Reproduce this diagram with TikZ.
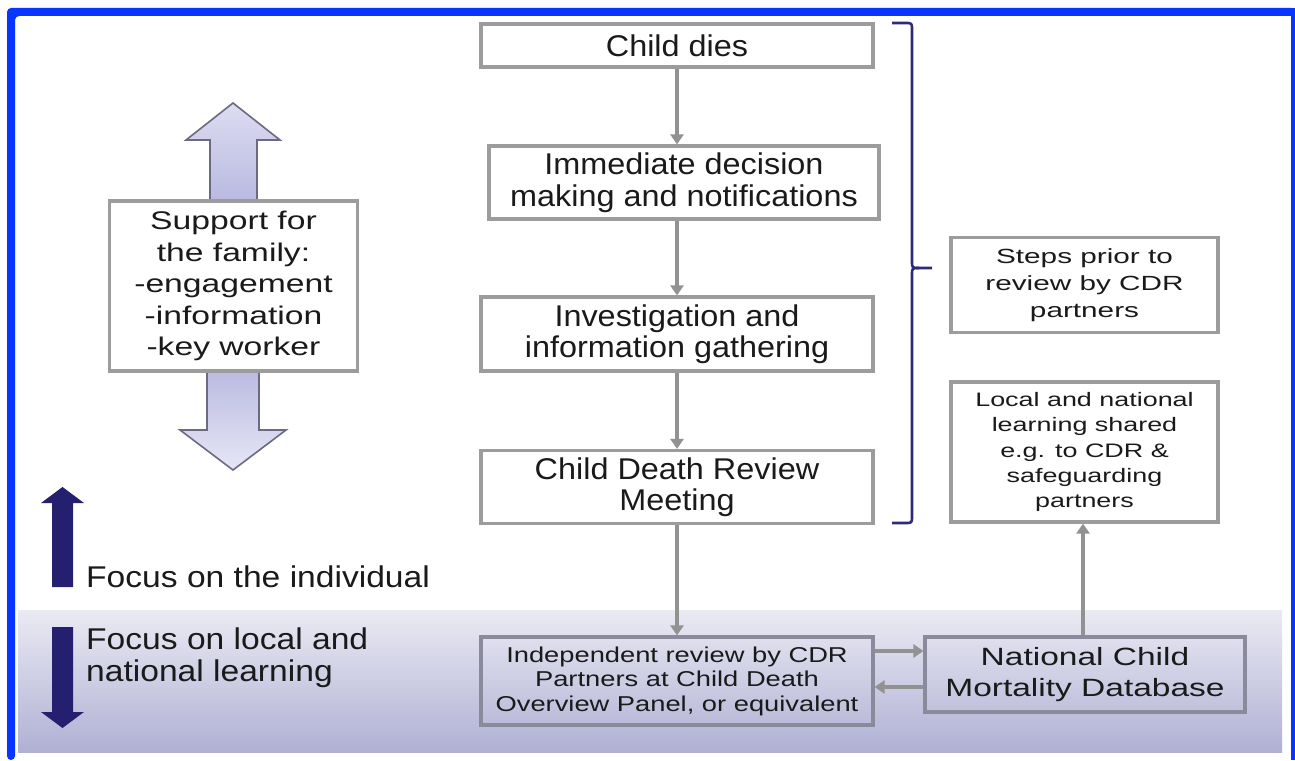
\documentclass[tikz,border=0pt]{standalone}
\usepackage{fontspec}
\setmainfont{Liberation Sans}[FakeStretch=1.08]
\newfontfamily\fsupport{Liberation Sans}[FakeStretch=1.32]
\newfontfamily\ffocus{Liberation Sans}[FakeStretch=1.12]
\newfontfamily\findep{Liberation Sans}[FakeStretch=1.27]
\newfontfamily\fnat{Liberation Sans}[FakeStretch=1.34]
\newfontfamily\fsteps{Liberation Sans}[FakeStretch=1.45]
\newfontfamily\flocal{Liberation Sans}[FakeStretch=1.38]
\usetikzlibrary{arrows.meta}
\definecolor{frameblue}{HTML}{0A35FF}
\definecolor{boxgray}{HTML}{9C9C9C}
\definecolor{bandgray}{HTML}{8A8A9C}
\definecolor{arrgray}{HTML}{929292}
\definecolor{navy}{HTML}{241F6E}
\definecolor{bracecol}{HTML}{2E2A7A}
\definecolor{txt}{HTML}{1A1A1A}
\definecolor{lavtop}{HTML}{EAEAF4}
\definecolor{lavbot}{HTML}{B0B0D4}
\definecolor{bigtop}{HTML}{DCDCF2}
\definecolor{bigbot}{HTML}{B8B8E0}
\definecolor{bigedge}{HTML}{6A6A82}
\tikzset{
  stepbox/.style={draw=boxgray, line width=3.2pt, fill=white, inner sep=0pt, align=center, text=txt},
  bandbox/.style={draw=bandgray, line width=3.2pt, inner sep=0pt, align=center, text=txt},
  flow/.style={draw=arrgray, line width=3.4pt, -{Triangle[length=10pt,width=13pt]}},
  bigarrow/.style={draw=bigedge, line width=1.6pt, line join=miter},
  darkarrow/.style={fill=navy, draw=none},
  bracket/.style={draw=bracecol, line width=2.6pt},
  bigtext/.style={font=\fontsize{30}{31.5}\selectfont},
}
\begin{document}
\begin{tikzpicture}[x=1pt,y=-1pt]
\useasboundingbox (0,0) rectangle (1295,760);
\fill[white] (0,0) rectangle (1295,760);
% bottom band
\shade[top color=lavtop, bottom color=lavbot] (18,610) rectangle (1282,752);
% blue frame
\fill[frameblue, rounded corners=4pt] (7,760) -- (7,8) -- (1295,8) -- (1295,16) -- (15,16) -- (15,760) -- cycle;
\fill[frameblue] (1291,8) rectangle (1295,760);

% support arrows
\shade[bigarrow, top color=bigtop, bottom color=bigbot] (210,205) -- (210,140) -- (186,140) -- (233,103) -- (280,140) -- (257,140) -- (257,205) -- cycle;
\shade[bigarrow, top color=bigbot, bottom color=bigtop!70!white] (207,365) -- (207,430) -- (180,430) -- (233,470) -- (286,430) -- (259,430) -- (259,365) -- cycle;
\node[stepbox, minimum width=248pt, minimum height=170pt, font=\fsupport\fontsize{25.5}{31.5}\selectfont] (sup) at (233.5,286) {Support for\\the family:\\-engagement\\-information\\-key worker};

% focus arrows
\fill[darkarrow] (52,587) -- (73,587) -- (73,503) -- (84,503) -- (62.5,487) -- (41,503) -- (52,503) -- cycle;
\fill[darkarrow] (52,627) -- (73,627) -- (73,712) -- (84,712) -- (62.5,728) -- (41,712) -- (52,712) -- cycle;
\node[anchor=west, text=txt, inner sep=0pt, font=\ffocus\fontsize{30}{32}\selectfont] (fi) at (86,577) {Focus on the individual};
\node[anchor=west, text=txt, inner sep=0pt, align=left, font=\ffocus\fontsize{30}{32}\selectfont] (fl) at (86,658) {Focus on local and\\national learning};

% main flow
\node[stepbox, bigtext, minimum width=392pt, minimum height=43pt] (cd) at (677,45.5) {Child dies};
\node[stepbox, bigtext, minimum width=390pt, minimum height=73pt] (imm) at (684,182.5) {Immediate decision\\making and notifications};
\node[stepbox, bigtext, minimum width=392pt, minimum height=74pt] (inv) at (677,334) {Investigation and\\information gathering};
\node[stepbox, bigtext, minimum width=392pt, minimum height=73pt] (mtg) at (677,487) {Child Death Review\\Meeting};
\node[bandbox, minimum width=392pt, minimum height=88pt, font=\findep\fontsize{21.5}{24.5}\selectfont] (ind) at (677,681) {Independent review by CDR\\Partners at Child Death\\Overview Panel, or equivalent};
\node[bandbox, minimum width=320pt, minimum height=75pt, font=\fnat\fontsize{25}{31}\selectfont] (nat) at (1085,674.5) {National Child\\Mortality Database};
\node[stepbox, minimum width=267pt, minimum height=95pt, font=\fsteps\fontsize{20.5}{27}\selectfont] (pri) at (1084.5,285) {Steps prior to\\review by CDR\\partners};
\node[stepbox, minimum width=267pt, minimum height=140pt, font=\flocal\fontsize{19.5}{25.3}\selectfont] (loc) at (1084.5,452) {Local and national\\learning shared\\e.g. to CDR \&\\safeguarding\\partners};

\draw[flow] (cd.south) -- (cd.south |- imm.north);
\draw[flow] (cd.south |- imm.south) -- (inv.north);
\draw[flow] (inv.south) -- (mtg.north);
\draw[flow] (mtg.south) -- (ind.north);
\draw[flow] ([yshift=30pt]ind.east) -- ([yshift=30pt]ind.east -| nat.west);
\draw[flow] ([yshift=-6pt]ind.east -| nat.west) -- ([yshift=-6pt]ind.east);
\draw[flow] ([xshift=-2pt]nat.north) -- ([xshift=-2pt]nat.north |- loc.south);

% bracket
\coordinate (bt) at (892,23);
\coordinate (bb) at (892,523);
\coordinate (bm) at (932,268);
\draw[bracket, line join=round] (bt) -- (905,23) .. controls (912,23) .. (912,30) -- (912,261) .. controls (912,268) .. (919,268) -- (bm);
\draw[bracket, line join=round] (919,268) .. controls (912,268) .. (912,275) -- (912,516) .. controls (912,523) .. (905,523) -- (bb);
\end{tikzpicture}
\end{document}
